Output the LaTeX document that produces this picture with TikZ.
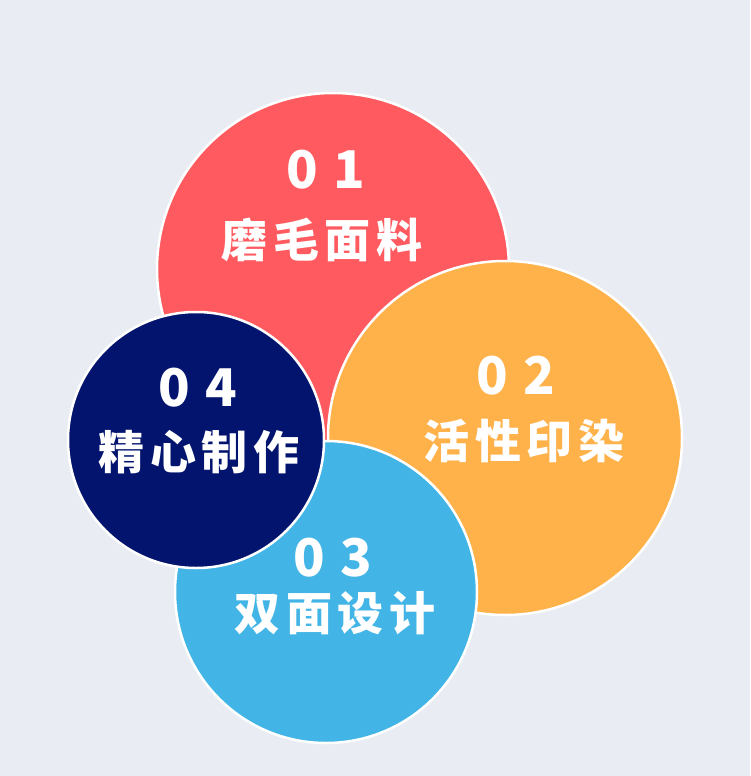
\documentclass[tikz,border=0pt]{standalone}
\usepackage{fontspec}
\newfontfamily\cjk[LetterSpace=12]{Noto Sans CJK SC Black}
\newfontfamily\numf[LetterSpace=30]{Noto Sans CJK SC Black}
\definecolor{bg}{HTML}{E9EDF3}
\definecolor{cred}{HTML}{FF5A5F}
\definecolor{corange}{HTML}{FFB14A}
\definecolor{cblue}{HTML}{42B5E6}
\definecolor{cnavy}{HTML}{02146E}
\tikzset{
  disc/.style={circle, draw=white, line width=2.5pt, inner sep=0pt},
  num/.style={text=white, font=\numf\fontsize{52}{52}\selectfont, inner sep=0pt, anchor=center},
  lab/.style={text=white, font=\cjk\fontsize{46}{46}\selectfont, inner sep=0pt, anchor=center}
}
\begin{document}
\begin{tikzpicture}[x=1pt,y=-1pt]
\fill[bg] (0,0) rectangle (750,776);
\useasboundingbox (0,0) rectangle (750,776);
\node[disc, fill=cred, minimum size=352pt] (c1) at (333,269) {};
\node[disc, fill=corange, minimum size=354pt] (c2) at (505,438) {};
\node[disc, fill=cblue, minimum size=302pt] (c3) at (326,592) {};
\node[disc, fill=cnavy, minimum size=256pt] (c4) at (196,440) {};
\node[num] (n1) at (326,170) {01};
\node[lab] (l1) at (322,240) {磨毛面料};
\node[num] (n2) at (516,376) {02};
\node[lab] (l2) at (524,441) {活性印染};
\node[num] (n3) at (333,558) {03};
\node[lab] (l3) at (335,613) {双面设计};
\node[num] (n4) at (198,388) {04};
\node[lab] (l4) at (199,452) {精心制作};
\end{tikzpicture}
\end{document}
